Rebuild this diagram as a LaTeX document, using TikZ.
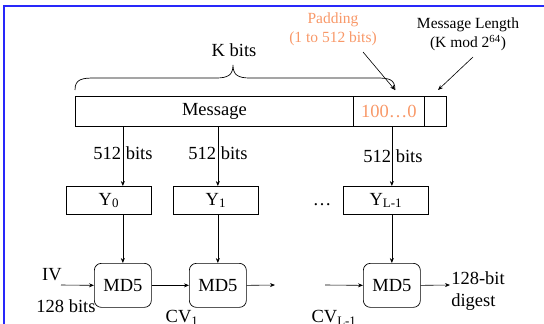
\documentclass[tikz,border=0pt]{standalone}
\usepackage{fontspec}
\setmainfont{Liberation Serif}
\usetikzlibrary{arrows.meta}
\definecolor{padorange}{RGB}{248,152,104}
\definecolor{frameblue}{RGB}{40,40,250}
\tikzset{
  big/.style={font=\fontsize{18.5}{22}\selectfont},
  small/.style={font=\fontsize{15.5}{19}\selectfont},
  seg/.style={draw, line width=0.8pt, minimum height=30pt, inner sep=0pt, anchor=north west, big},
  ybox/.style={draw, line width=0.7pt, minimum width=85pt, minimum height=28pt, inner sep=0pt, anchor=north west, big},
  mdbox/.style={draw, line width=0.7pt, rounded corners=7pt, minimum width=57pt, minimum height=44pt, inner sep=0pt, anchor=north west, big},
  lbl/.style={inner sep=0pt, big},
  conn/.style={line width=0.6pt, -{Stealth[length=5pt,width=4pt]}},
}
\begin{document}
\begin{tikzpicture}[x=1pt,y=-1pt]
\useasboundingbox (0,0) rectangle (544,324);
\draw[frameblue, line width=1.3pt] (4,324) -- (4,6) -- (544,6);

% message bar
\node[seg, minimum width=278pt] (msg) at (75,96) {Message};
\node[seg, minimum width=71pt, text=padorange] (pad) at (353,96) {100\ldots0};
\node[seg, minimum width=22pt] (len) at (424,96) {};

% brace
\draw[line width=0.7pt] (75,90) .. controls (75,79) and (82,78) .. (95,78) -- (216,78)
  .. controls (228,78) and (233,75) .. (233,65)
  .. controls (233,75) and (238,78) .. (250,78) -- (376,78)
  .. controls (389,78) and (395,79) .. (395,90);
\node[lbl] (kbits) at (234,50) {K bits};

% padding and length labels
\node[small, text=padorange, align=center, inner sep=0pt] (padlbl) at (333,29) {Padding\\(1 to 512 bits)};
\node[small, align=center, inner sep=0pt] (lenlbl) at (468,34) {Message Length\\(K mod 2\textsuperscript{64})};
\coordinate (padfrom) at (363,52);
\coordinate (padto) at (395,90);
\coordinate (lenfrom) at (473,57);
\coordinate (lento) at (438,90);
\draw[conn] (padfrom) -- (padto);
\draw[conn] (lenfrom) -- (lento);

% Y boxes
\node[ybox] (y0) at (66,186) {Y\textsubscript{0}};
\node[ybox] (y1) at (173,186) {Y\textsubscript{1}};
\node[ybox] (yl) at (343,186) {Y\textsubscript{L-1}};
\node[lbl, anchor=base] (dots) at (322,205) {\ldots};

% MD5 boxes
\node[mdbox] (md1) at (94,263) {MD5};
\node[mdbox] (md2) at (189,263) {MD5};
\node[mdbox] (md3) at (363,263) {MD5};

% message to Y
\draw[conn] (msg.south -| md1.north) -- (md1.north |- y0.north);
\draw[conn] (msg.south -| md2.north) -- (md2.north |- y1.north);
\draw[conn] (pad.south -| md3.north) -- (md3.north |- yl.north);
\node[lbl] (b1) at (123,153) {512 bits};
\node[lbl] (b2) at (218,153) {512 bits};
\node[lbl] (b3) at (393,156) {512 bits};

% Y to MD5
\draw[conn] (md1.north |- y0.south) -- (md1.north);
\draw[conn] (md2.north |- y1.south) -- (md2.north);
\draw[conn] (md3.north |- yl.south) -- (md3.north);

% chain
\coordinate (ivin) at (61,285);
\coordinate (cvout) at (275,285);
\coordinate (cvin) at (325,285);
\coordinate (dout) at (450,285);
\draw[conn] (ivin) -- (md1.west);
\draw[conn] (md1.east) -- (md2.west);
\draw[conn] (md2.east) -- (cvout);
\draw[conn] (cvin) -- (md3.west);
\draw[conn] (md3.east) -- (dout);

\node[lbl] (iv) at (52,275) {IV};
\node[lbl] (ivbits) at (66,306) {128 bits};
\node[lbl] (cv1) at (182,318) {CV\textsubscript{1}};
\node[lbl] (cvl) at (334,318) {CV\textsubscript{L-1}};
\node[lbl, align=left] (digest) at (478,291) {128-bit\\digest};
\end{tikzpicture}
\end{document}
